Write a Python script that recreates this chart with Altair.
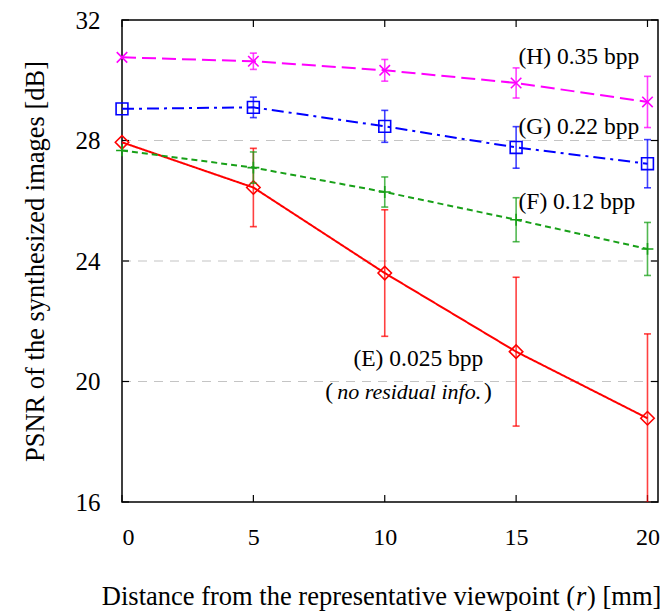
import altair as alt
import pandas as pd

# ---- data ----
distance = [0, 5, 10, 15, 20]
psnr_H = [30.76, 30.63, 30.33, 29.91, 29.28]
err_H = [0.0, 0.27, 0.36, 0.50, 0.85]
psnr_G = [29.05, 29.10, 28.47, 27.77, 27.23]
err_G = [0.0, 0.34, 0.53, 0.69, 0.80]
psnr_F = [27.67, 27.10, 26.29, 25.37, 24.40]
err_F = [0.0, 0.52, 0.50, 0.73, 0.88]
psnr_E = [27.94, 26.44, 23.60, 20.99, 18.78]
err_E = [0.0, 1.30, 2.10, 2.47, 2.80]

y_ticks = [16, 20, 24, 28, 32]
y_grid = [20, 24, 28]
x_ticks = [0, 5, 10, 15, 20]

label_H = "(H) 0.35 bpp"
label_G = "(G) 0.22 bpp"
label_F = "(F) 0.12 bpp"
label_E = "(E) 0.025 bpp"
label_E2 = "no residual info."
x_title_parts = ["Distance from the representative viewpoint (", "r", ") [mm]"]
y_title = "PSNR of the synthesized images [dB]"

W, H = 536, 482
FONT = "Liberation Serif"

xs = alt.Scale(domain=[0, 20.4], nice=False, zero=False)
ys = alt.Scale(domain=[16, 32], nice=False, zero=False)

styles = {
    "H": dict(vals=psnr_H, err=err_H, color="#ff00ff", dash=[14, 6],
              shape="M-1,-1L1,1M-1,1L1,-1", size=110),
    "G": dict(vals=psnr_G, err=err_G, color="#0000ff", dash=[12, 5, 3, 5],
              shape="square", size=140),
    "F": dict(vals=psnr_F, err=err_F, color="#18a018", dash=[6, 4],
              shape="M-1,0L1,0M0,-1L0,1", size=140),
    "E": dict(vals=psnr_E, err=err_E, color="#ff0000", dash=[1, 0],
              shape="diamond", size=180),
}

X = alt.X("x:Q", scale=xs, axis=alt.Axis(values=x_ticks, ticks=False, domain=False, grid=False,
                                          labelFont=FONT, labelFontSize=24, labelColor="black",
                                          labelPadding=23, title=None))
Y = alt.Y("y:Q", scale=ys, axis=alt.Axis(values=y_ticks, ticks=False, domain=False, grid=False,
                                          labelFont=FONT, labelFontSize=25, labelColor="black",
                                          labelPadding=22,
                                          title=y_title,
                                          titleFont=FONT, titleFontSize=26.5, titleFontWeight="normal",
                                          titleColor="black", titleX=-87, titleY=241,
                                          titleAngle=-90, titleBaseline="middle", titleAlign="center"))

layers = []

# grid
grid_df = pd.DataFrame({"y": y_grid})
layers.append(alt.Chart(grid_df).mark_rule(color="#c4c4c4", strokeWidth=1.2, strokeDash=[9, 7]).encode(
    y=alt.Y("y:Q", scale=ys), x=alt.value(0), x2=alt.value(W)))

# inner ticks
xt = pd.DataFrame({"x": x_ticks})
yt = pd.DataFrame({"y": y_ticks})
layers.append(alt.Chart(xt).mark_rule(color="black", strokeWidth=1.2).encode(
    x=alt.X("x:Q", scale=xs), y=alt.value(H), y2=alt.value(H - 7)))
layers.append(alt.Chart(xt).mark_rule(color="black", strokeWidth=1.2).encode(
    x=alt.X("x:Q", scale=xs), y=alt.value(0), y2=alt.value(7)))
layers.append(alt.Chart(yt).mark_rule(color="black", strokeWidth=1.2).encode(
    y=alt.Y("y:Q", scale=ys), x=alt.value(0), x2=alt.value(7)))
layers.append(alt.Chart(yt).mark_rule(color="black", strokeWidth=1.2).encode(
    y=alt.Y("y:Q", scale=ys), x=alt.value(W - 7), x2=alt.value(W)))

first = True
for name in ["E", "F", "G", "H"]:
    s = styles[name]
    df = pd.DataFrame({"x": distance, "y": s["vals"], "err": s["err"]})
    df["lo"] = df["y"] - df["err"]
    df["hi"] = df["y"] + df["err"]
    edf = df[df["err"] > 0]
    base = alt.Chart(df)
    eb = alt.Chart(edf)
    layers.append(eb.mark_rule(color=s["color"], strokeWidth=1.6, opacity=0.75, clip=True).encode(
        x=alt.X("x:Q", scale=xs), y=alt.Y("lo:Q", scale=ys), y2="hi:Q"))
    for col in ["lo", "hi"]:
        layers.append(eb.mark_tick(color=s["color"], orient="horizontal", size=7, thickness=1.6,
                                   opacity=0.75, clip=True).encode(
            x=alt.X("x:Q", scale=xs), y=alt.Y(f"{col}:Q", scale=ys)))
    if first:
        layers.append(base.mark_line(color=s["color"], strokeWidth=2, strokeDash=s["dash"]).encode(x=X, y=Y))
        first = False
    else:
        layers.append(base.mark_line(color=s["color"], strokeWidth=2, strokeDash=s["dash"]).encode(
            x=alt.X("x:Q", scale=xs), y=alt.Y("y:Q", scale=ys)))
    layers.append(base.mark_point(shape=s["shape"], size=s["size"], filled=False, color=s["color"],
                                  strokeWidth=1.6, opacity=1).encode(
        x=alt.X("x:Q", scale=xs), y=alt.Y("y:Q", scale=ys)))

# annotations
ann = pd.DataFrame({
    "x": [15.09, 15.09, 15.09],
    "y": [30.78, 28.46, 25.97],
    "t": [label_H, label_G, label_F],
})
layers.append(alt.Chart(ann).mark_text(font=FONT, fontSize=23.5, align="left", baseline="middle",
                                       color="black").encode(
    x=alt.X("x:Q", scale=xs), y=alt.Y("y:Q", scale=ys), text="t:N"))
annE = pd.DataFrame({"x": [11.28], "y": [20.75], "t": [label_E]})
layers.append(alt.Chart(annE).mark_text(font=FONT, fontSize=23.5, align="center", baseline="middle",
                                        color="black").encode(
    x=alt.X("x:Q", scale=xs), y=alt.Y("y:Q", scale=ys), text="t:N"))
annE2 = pd.DataFrame({"x": [10.93], "y": [19.65], "t": [label_E2]})
layers.append(alt.Chart(annE2).mark_text(font=FONT, fontSize=22, fontStyle="italic", align="center",
                                         baseline="middle", color="black").encode(
    x=alt.X("x:Q", scale=xs), y=alt.Y("y:Q", scale=ys), text="t:N"))
annL = pd.DataFrame({"x": [8.03], "y": [19.65], "t": ["("]})
annR = pd.DataFrame({"x": [13.78], "y": [19.65], "t": [")"]})
layers.append(alt.Chart(annL).mark_text(font=FONT, fontSize=23.5, align="right",
                                        baseline="middle", color="black").encode(
    x=alt.X("x:Q", scale=xs), y=alt.Y("y:Q", scale=ys), text="t:N"))
layers.append(alt.Chart(annR).mark_text(font=FONT, fontSize=23.5, align="left",
                                        baseline="middle", color="black").encode(
    x=alt.X("x:Q", scale=xs), y=alt.Y("y:Q", scale=ys), text="t:N"))

# x axis title with italic r
TFS = 26.5
title_y = H + 95
p1 = pd.DataFrame({"t": [x_title_parts[0]]})
p2 = pd.DataFrame({"t": [x_title_parts[1]]})
p3 = pd.DataFrame({"t": [x_title_parts[2]]})
layers.append(alt.Chart(p1).mark_text(font=FONT, fontSize=TFS, align="right", baseline="middle",
                                      color="black").encode(
    x=alt.value(453), y=alt.value(title_y), text="t:N"))
layers.append(alt.Chart(p2).mark_text(font=FONT, fontSize=TFS, fontStyle="italic", align="left",
                                      baseline="middle", color="black").encode(
    x=alt.value(454), y=alt.value(title_y), text="t:N"))
layers.append(alt.Chart(p3).mark_text(font=FONT, fontSize=TFS, align="left", baseline="middle",
                                      color="black").encode(
    x=alt.value(465), y=alt.value(title_y), text="t:N"))

chart = alt.layer(*layers).properties(
    width=W, height=H,
    autosize=alt.AutoSizeParams(type="none"),
    padding={"left": 122, "top": 20, "right": 8, "bottom": 113},
    background="white",
).configure_view(stroke="black", strokeWidth=1.5)

chart.save("out.html", embed_options={"renderer": "svg", "actions": False})
